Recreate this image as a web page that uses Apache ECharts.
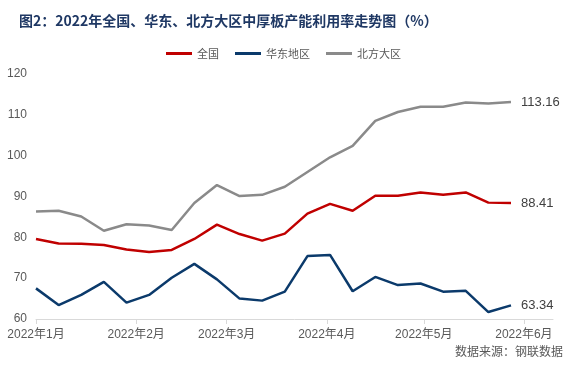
<!DOCTYPE html>
<html>
<head>
<meta charset="utf-8">
<script src="https://cdn.jsdelivr.net/npm/echarts@6/dist/echarts.min.js"></script>
<style>html,body{margin:0;padding:0;background:#fff}#c{width:567px;height:378px}</style>
</head>
<body>
<div id="c"></div>
<script>
var dates = ['2022-01-01','2022-01-08','2022-01-15','2022-01-22','2022-01-29','2022-02-05','2022-02-12','2022-02-19','2022-02-26','2022-03-05','2022-03-12','2022-03-19','2022-03-26','2022-04-02','2022-04-09','2022-04-16','2022-04-23','2022-04-30','2022-05-07','2022-05-14','2022-05-21','2022-05-28'];
var national = [79.6,78.5,78.4,78.1,77.0,76.4,76.9,79.6,83.1,80.8,79.2,80.9,85.8,88.2,86.5,90.2,90.2,91.0,90.4,91.0,88.5,88.41];
var east = [67.5,63.4,65.9,69.1,64.0,65.9,70.1,73.5,69.7,65.0,64.5,66.7,75.4,75.7,66.8,70.3,68.3,68.7,66.7,66.9,61.7,63.34];
var north = [86.3,86.5,85.1,81.6,83.2,82.9,81.8,88.4,92.8,90.1,90.4,92.4,96.0,99.6,102.4,108.5,110.7,112.0,112.0,113.0,112.8,113.16];
var seriesNames = ['全国','华东地区','北方大区'];
var colors = ['#C00000','#0B3A6B','#8A8A8A'];

function ts(s){var p=s.split('-');return new Date(+p[0],+p[1]-1,+p[2]).getTime();}
function pairs(vals){return dates.map(function(d,i){return [ts(d),vals[i]];});}
var DAY = 86400000;
var numFont = '"Liberation Sans Narrow","Liberation Sans","Noto Sans CJK SC",sans-serif';

var chart = echarts.init(document.getElementById('c'));
function mk(name, vals, color){
  return {
    name:name, type:'line', data:pairs(vals), symbol:'none', smooth:false,
    lineStyle:{color:color,width:2.5}, itemStyle:{color:color},
    endLabel:{show:true, distance:10, color:'#404040', fontSize:13, fontFamily:numFont,
      formatter:function(p){return p.value[1].toFixed(2);}},
    emphasis:{disabled:true}, animation:false
  };
}
chart.setOption({
  animation:false,
  color:colors,
  title:{text:'图2：2022年全国、华东、北方大区中厚板产能利用率走势图（%）', left:14, top:9,
    textStyle:{fontSize:14, fontWeight:'bold', color:'#1F3864', fontFamily:'"Noto Sans CJK SC",sans-serif'}},
  legend:{top:43, left:'center', icon:'rect', itemWidth:26, itemHeight:3, itemGap:16,
    data:seriesNames,
    textStyle:{fontSize:11, color:'#595959', fontFamily:'"Noto Sans CJK SC",sans-serif'}},
  grid:{left:36, right:14, top:74, bottom:59, containLabel:false},
  xAxis:{type:'time', min:ts('2022-01-01'), max:ts('2022-06-10'),
    minInterval:28*DAY, maxInterval:31*DAY,
    axisLine:{show:true, lineStyle:{color:'#D9D9D9', width:1}},
    axisTick:{show:true, length:5, lineStyle:{color:'#D9D9D9'}},
    axisLabel:{color:'#595959', fontSize:12, fontFamily:numFont, margin:10,
      showMinLabel:true, showMaxLabel:false, hideOverlap:false,
      formatter:function(v){var d=new Date(v);return d.getFullYear()+'年'+(d.getMonth()+1)+'月';}},
    splitLine:{show:false}},
  yAxis:{type:'value', min:60, max:120, interval:10,
    axisLine:{show:false}, axisTick:{show:false}, splitLine:{show:false},
    axisLabel:{color:'#595959', fontSize:12, fontFamily:numFont, margin:9}},
  series:[mk(seriesNames[0],national,colors[0]), mk(seriesNames[1],east,colors[1]), mk(seriesNames[2],north,colors[2])],
  graphic:[{type:'text', right:4, top:345,
    style:{text:'数据来源：钢联数据', fontSize:12, fill:'#595959', fontFamily:'"Noto Sans CJK SC",sans-serif'}}]
});
</script>
</body>
</html>
